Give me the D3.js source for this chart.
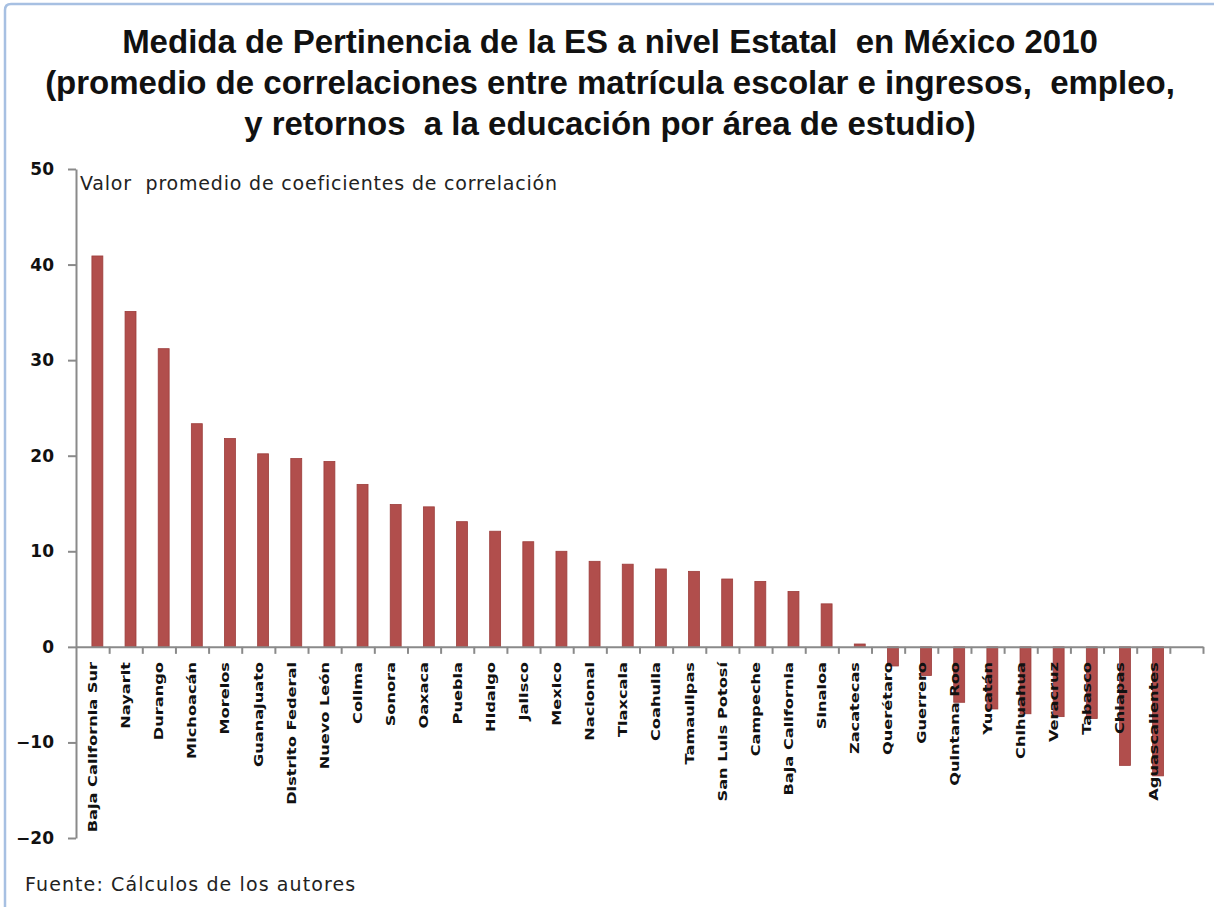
<!DOCTYPE html>
<html>
<head>
<meta charset="utf-8">
<script src="https://cdn.jsdelivr.net/npm/d3@7"></script>
<style>
  html, body { margin: 0; padding: 0; background: #fff; }
  svg { display: block; }
</style>
</head>
<body>
<script>
// ---- data ----
const titleLines = [
  "Medida de Pertinencia de la ES a nivel Estatal  en México 2010",
  "(promedio de correlaciones entre matrícula escolar e ingresos,  empleo,",
  "y retornos  a la educación por área de estudio)"
];
const yLabel = "Valor  promedio de coeficientes de correlación";
const source = "Fuente: Cálculos de los autores";
const categories = [
  "Baja California Sur","Nayarit","Durango","Michoacán","Morelos","Guanajuato",
  "Distrito Federal","Nuevo León","Colima","Sonora","Oaxaca","Puebla","Hidalgo",
  "Jalisco","Mexico","Nacional","Tlaxcala","Coahuila","Tamaulipas","San Luis Potosí",
  "Campeche","Baja California","Sinaloa","Zacatecas","Querétaro","Guerrero",
  "Quintana Roo","Yucatán","Chihuahua","Veracruz","Tabasco","Chiapas","Aguascalientes"
];
const values = [
  40.9, 35.1, 31.2, 23.35, 21.8, 20.2, 19.7, 19.4, 17.0, 14.9, 14.65, 13.1, 12.1,
  11.0, 10.0, 8.95, 8.65, 8.15, 7.9, 7.1, 6.85, 5.8, 4.5, 0.3, -2.0, -3.0,
  -5.8, -6.5, -7.0, -7.3, -7.5, -12.4, -13.5
];
const yTicks = [-20, -10, 0, 10, 20, 30, 40, 50];

// ---- layout ----
const W = 1214, H = 907;
const svg = d3.select("body").append("svg").attr("width", W).attr("height", H);

// frame
svg.append("path")
  .attr("d", `M5,${H} L5,10 Q5,4 11,4 L${W},4`)
  .attr("fill", "none").attr("stroke", "#a7c0e2").attr("stroke-width", 2.5);

// title
svg.append("g").selectAll("text").data(titleLines).join("text")
  .attr("x", 610).attr("y", (d, i) => 53 + i * 41)
  .attr("text-anchor", "middle")
  .attr("font-family", "Liberation Sans, Arial, sans-serif")
  .attr("font-weight", "bold").attr("font-size", 33)
  .attr("fill", "#111")
  .style("white-space", "pre")
  .text(d => d);

const slots = categories.concat([" "]);
const x = d3.scaleBand().domain(slots).range([76, 1203]).paddingInner(0).paddingOuter(0);
const y = d3.scaleLinear().domain([-20, 50]).range([838, 169]);
const idx = d3.scaleLinear().domain([0, slots.length]).range([76, 1203]);

// y axis
const gy = svg.append("g").attr("transform", "translate(76,0)")
  .call(d3.axisLeft(y).tickValues(yTicks).tickSize(8).tickSizeOuter(0).tickPadding(14));
gy.select(".domain").attr("stroke", "#8a8a8a").attr("stroke-width", 2);
gy.selectAll(".tick line").attr("stroke", "#8a8a8a").attr("stroke-width", 2);
gy.selectAll(".tick text")
  .attr("font-family", "DejaVu Sans, Verdana, sans-serif")
  .attr("font-weight", "bold").attr("font-size", 17).attr("fill", "#111");

// bars
const bw = x.bandwidth();
svg.append("g").selectAll("rect").data(values).join("rect")
  .attr("x", (d, i) => x(categories[i]) + bw * 0.48)
  .attr("width", bw * 0.33)
  .attr("y", d => y(Math.max(0, d)))
  .attr("height", d => Math.abs(y(d) - y(0)))
  .attr("fill", "#b14e4c")
  .attr("stroke", "#9c3d3b").attr("stroke-width", 0.8);

// x axis (at zero)
const gx = svg.append("g").attr("transform", `translate(0,${y(0)})`)
  .call(d3.axisBottom(idx).tickValues(d3.range(1, slots.length + 1)).tickSize(7).tickSizeOuter(0).tickFormat(""));
gx.select(".domain").attr("stroke", "#8a8a8a").attr("stroke-width", 2);
gx.selectAll(".tick line").attr("stroke", "#8a8a8a").attr("stroke-width", 2);

// category labels
svg.append("g").selectAll("text").data(categories).join("text")
  .attr("transform", d => `translate(${x(d) + bw / 2},662) rotate(-90) scale(1.35,1)`)
  .attr("text-anchor", "end")
  .attr("dy", "0.36em")
  .attr("font-family", "DejaVu Sans, Verdana, sans-serif")
  .attr("font-weight", "bold").attr("font-size", 12)
  .attr("fill", "#111")
  .text(d => d);

// y label
svg.append("text")
  .attr("x", 80).attr("y", 190)
  .attr("font-family", "DejaVu Sans, Verdana, sans-serif")
  .attr("font-size", 19).attr("letter-spacing", 0.8).attr("fill", "#222")
  .style("white-space", "pre")
  .text(yLabel);

// source
svg.append("text")
  .attr("x", 25).attr("y", 891)
  .attr("font-family", "DejaVu Sans, Verdana, sans-serif")
  .attr("font-size", 19).attr("letter-spacing", 1.1).attr("fill", "#222")
  .text(source);
</script>
</body>
</html>
